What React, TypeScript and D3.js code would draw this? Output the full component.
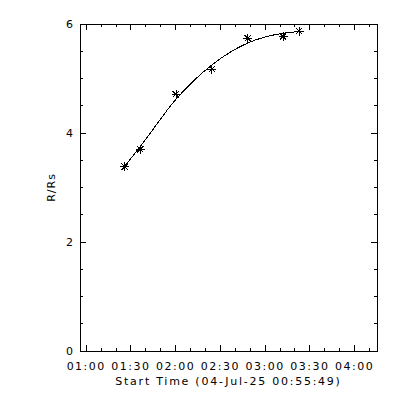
import React from 'react';
import * as d3 from 'd3';

// observation times (04-Jul-25) and heights in solar radii
const obsTimes = ['01:25:42', '01:36:12', '02:00:12', '02:24:18', '02:48:12', '03:12:00', '03:22:42'];
const obsHeights = [3.38, 3.70, 4.71, 5.17, 5.74, 5.77, 5.87];
// fitted height at the same times
const fitHeights = [3.39, 3.75, 4.62, 5.25, 5.65, 5.83, 5.86];

const day = '2025-07-04';
const startTime = '00:55:49';
const endTime = '04:15:00';
const yMajor = [0, 2, 4, 6];
const xTitle = 'Start Time (04-Jul-25 00:55:49)';
const yTitle = 'R/Rs';

const parse = d3.utcParse('%Y-%m-%d %H:%M:%S');
const fmt = d3.utcFormat('%H:%M');

const App = () => {
  const width = 400;
  const height = 400;
  const marginLeft = 80;
  const marginRight = 23;
  const marginTop = 24;
  const marginBottom = 49;
  const font = '"DejaVu Sans", sans-serif';

  const x = d3.scaleUtc()
    .domain([parse(`${day} ${startTime}`), parse(`${day} ${endTime}`)])
    .range([marginLeft, width - marginRight]);
  const y = d3.scaleLinear().domain([0, 6]).range([height - marginBottom, marginTop]);

  const [x0, x1] = x.range();
  const [y0, y1] = y.range();

  const xMajor = d3.utcMinute.every(30).range(...x.domain());
  const xMinor = d3.utcMinute.every(10).range(...x.domain());
  const yMinor = d3.range(0, 6.01, 0.5);

  const pts = obsTimes.map((t, i) => ({ t: parse(`${day} ${t}`), v: obsHeights[i], f: fitHeights[i] }));
  const fitLine = d3.line().curve(d3.curveMonotoneX).x(d => x(d.t)).y(d => y(d.f));

  const r = 4.5;
  const rd = 3.2;
  const star = `M${-r},0H${r}M0,${-r}V${r}M${-rd},${-rd}L${rd},${rd}M${-rd},${rd}L${rd},${-rd}`;

  return (
    <svg width={width} height={height} style={{ position: 'absolute', left: 0, top: 0, background: '#fff' }}>
      <g stroke="#000" strokeWidth={1} shapeRendering="crispEdges" fill="none">
        <rect x={x0} y={y1} width={x1 - x0} height={y0 - y1} />
        {xMinor.map((d, i) => {
          const len = xMajor.some(m => +m === +d) ? 6 : 3;
          return (
            <g key={'x' + i}>
              <line x1={x(d)} x2={x(d)} y1={y0} y2={y0 - len} />
              <line x1={x(d)} x2={x(d)} y1={y1} y2={y1 + len} />
            </g>
          );
        })}
        {yMinor.map((d, i) => {
          const len = yMajor.includes(d) ? 6 : 3;
          return (
            <g key={'y' + i}>
              <line x1={x0} x2={x0 + len} y1={y(d)} y2={y(d)} />
              <line x1={x1} x2={x1 - len} y1={y(d)} y2={y(d)} />
            </g>
          );
        })}
        <path d={fitLine(pts)} />
        {pts.map((p, i) => (
          <path key={'p' + i} d={star} transform={`translate(${x(p.t)},${y(p.v)})`} />
        ))}
      </g>
      <g fontFamily={font} fontSize={11} fill="#000">
        {xMajor.map((d, i) => (
          <text key={'xl' + i} x={x(d)} y={y0 + 19} textAnchor="middle" letterSpacing={1.5}>{fmt(d)}</text>
        ))}
        {yMajor.map((d, i) => (
          <text key={'yl' + i} x={x0 - 7} y={y(d) + 4} textAnchor="end">{d}</text>
        ))}
        <text x={(x0 + x1) / 2} y={y0 + 34} textAnchor="middle" letterSpacing={1.75}>{xTitle}</text>
        <text transform={`translate(${x0 - 25},${(y0 + y1) / 2}) rotate(-90)`} textAnchor="middle" letterSpacing={1}>{yTitle}</text>
      </g>
    </svg>
  );
};

export default App;
